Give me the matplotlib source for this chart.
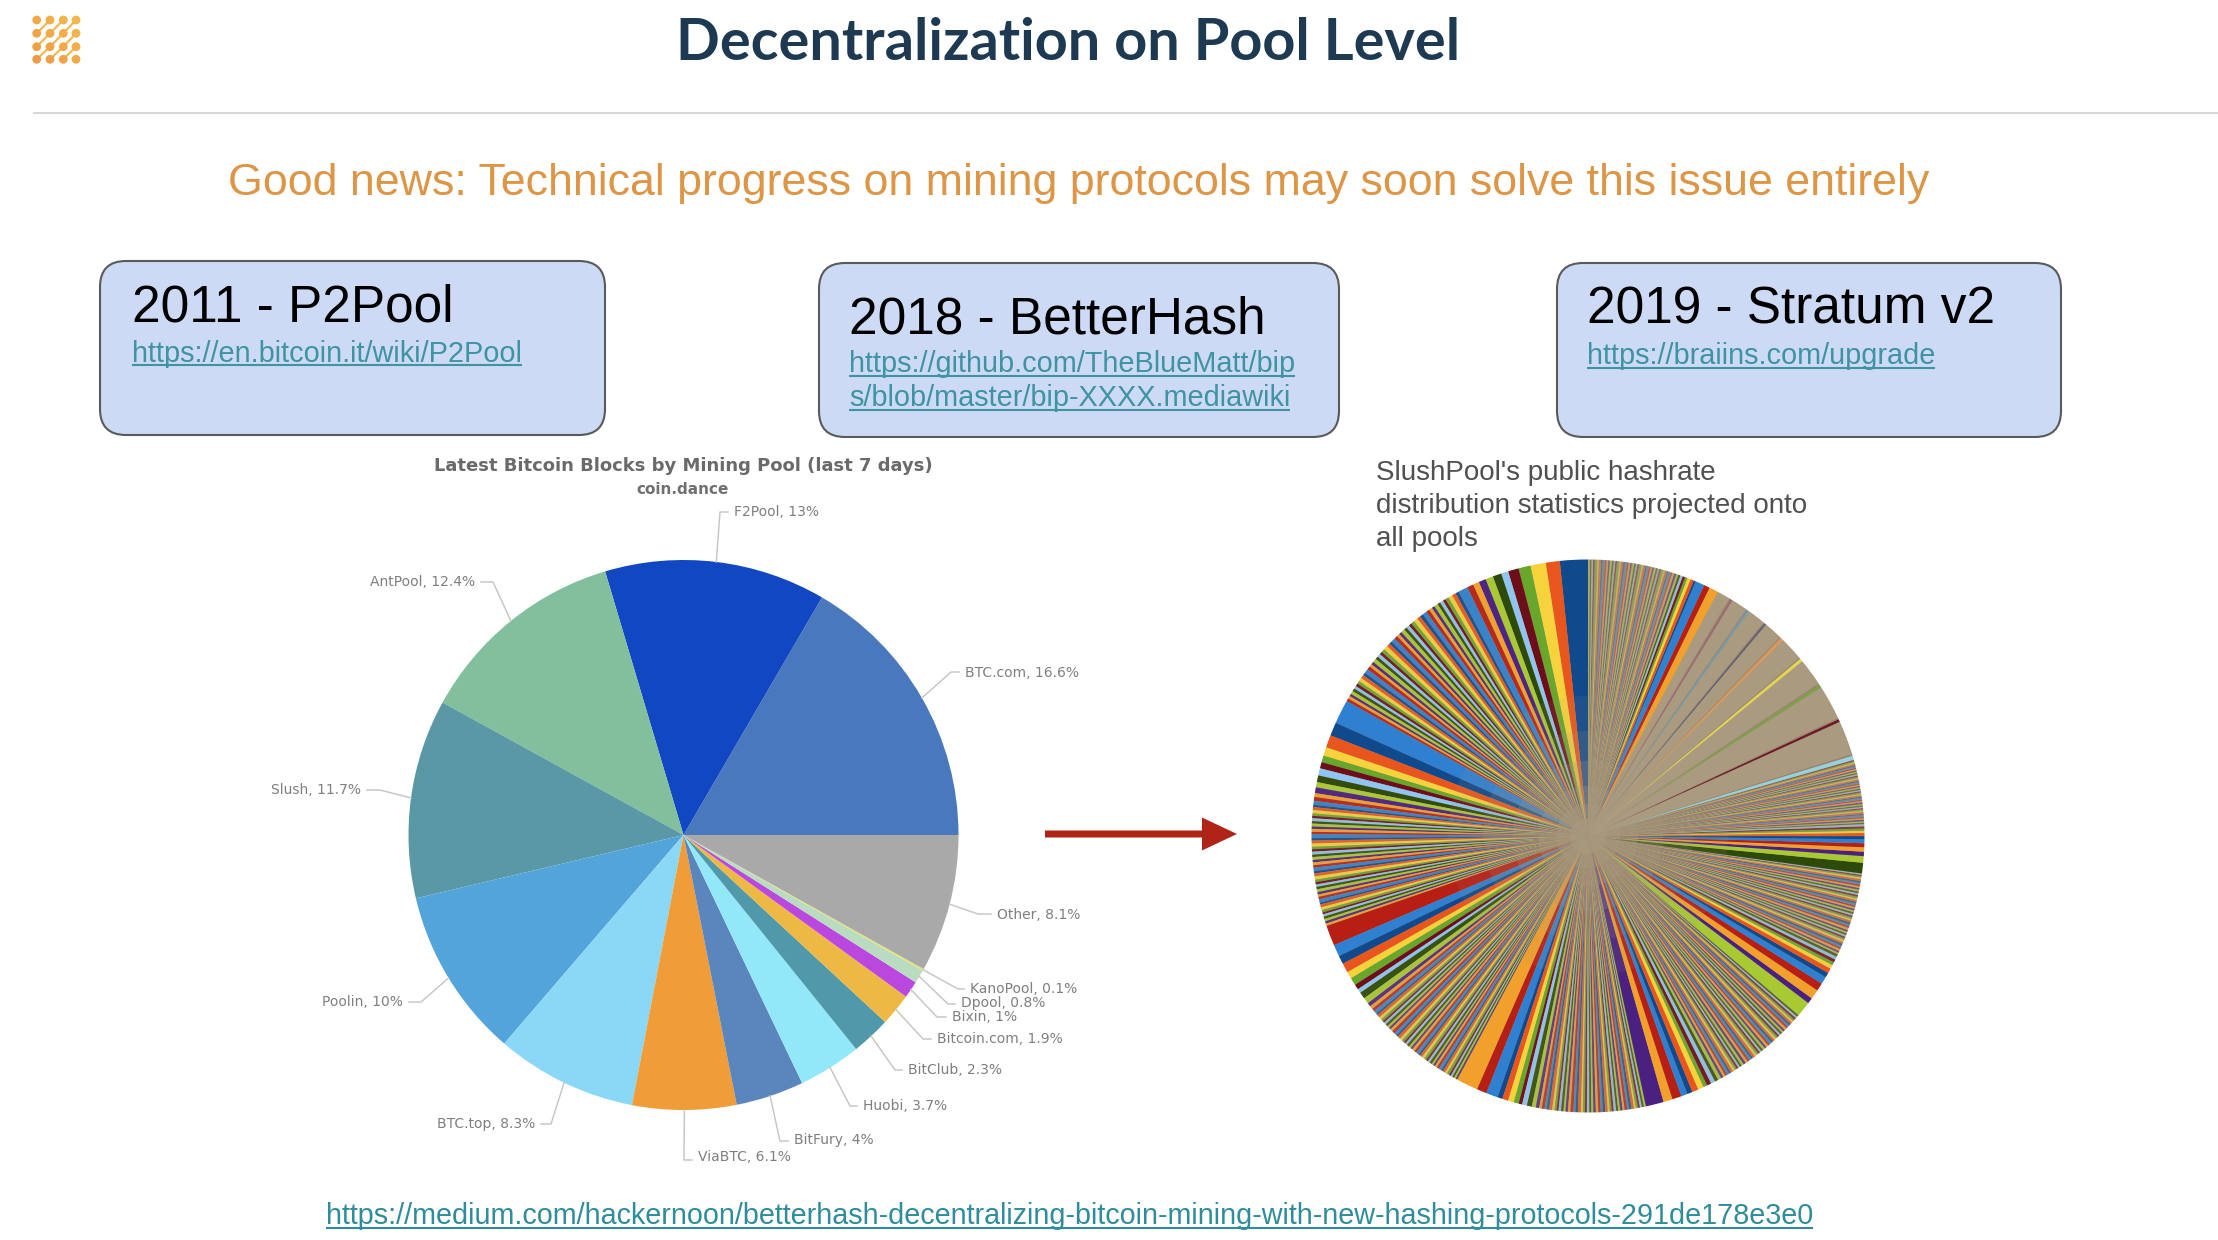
import matplotlib
matplotlib.use("Agg")
import matplotlib.pyplot as plt
from matplotlib.patches import FancyBboxPatch, FancyArrow, Circle
from matplotlib.colors import to_rgb
import math

W, H = 2218, 1240

# ---------- left pie data ----------
pool_names = ["BTC.com", "F2Pool", "AntPool", "Slush", "Poolin", "BTC.top", "ViaBTC", "BitFury",
              "Huobi", "BitClub", "Bitcoin.com", "Bixin", "Dpool", "KanoPool", "Other"]
pool_share = [16.6, 13, 12.4, 11.7, 10, 8.3, 6.1, 4, 3.7, 2.3, 1.9, 1, 0.8, 0.1, 8.1]
pool_colors = ["#4a78bd", "#1247c4", "#82bf9d", "#5b98a6", "#53a4db", "#8bd8f6", "#f09c38", "#5a86bd",
               "#92e8f9", "#5099ab", "#eeb845", "#bb48de", "#b9dcc0", "#e8e070", "#a9a9a9"]

# ---------- right pie data: degrees read per pool, counter-clockwise from 12 o'clock ----------
palette = ["#10498c", "#e9561d", "#f6d23d", "#69a62c", "#6c0f1b", "#8fc5ef",
           "#2e4a0b", "#a9c933", "#4a2181", "#f2a02c", "#b71f14", "#2f80d1"]
group_start_color = [0, 11, 10, 9, 8, 7, 6, 9]
group_span = [60.8, 48.2, 42.8, 40.3, 37.5, 32.6, 23.8, 28.0]
group_tail_mute = [0.12, 0.15, 0.25, 0.3, 0.32, 0.4, 0.5, 0.58]

grp_a = [5.8, 2.9, 3.2, 2.5, 2.2, 1.5, 1.8, 1.6, 1.5, 1.3, 1.3, 2.0,
         .7, .8, .9, .7, .6, .7, .6, .8, .6, .7, .7, .9,
         .7, .7, .9, .7, .6, .7, .6, .8, .6, .6, .7, .9,
         .6, .7, .9, .7, .6, .7, .6, .8, .6, .6, .7, .9,
         .6, .7, .8, .6, .6, .6, .6, .7, .5, .6, .6]
grp_b = [5.0, 2.8, 2.6, 1.8, 1.4, 1.3, 1.5, 1.4, 1.1, 1.2, .8, .8,
         .8, .5, .6, .7, .5, .5, .6, .5, .6, .5, .6, .5,
         .8, .5, .6, .7, .5, .5, .6, .5, .6, .5, .6, .5,
         .7, .5, .6, .7, .5, .5, .5, .5, .6, .5, .5, .5,
         .7, .4, .6, .6, .5, .4, .5, .5, .5, .5, .5]
grp_c = [4.3, 2.5, 1.8, 2.0, 1.5, 1.6, 1.1, .9, 1.4, 1.3, .8, .7,
         .6, .7, .4, .6, .6, .5, .4, .5, .5, .5, .4, .6,
         .6, .6, .4, .6, .6, .5, .4, .5, .5, .5, .4, .6,
         .5, .6, .4, .5, .6, .5, .4, .5, .5, .4, .4, .5,
         .5, .6, .4, .5, .5, .5, .4, .4, .4, .4, .4]
grp_d = [4.4, 2.0, 2.4, 1.0, 1.2, 1.2, 1.0, .7, 1.0, 1.0, .8, .7,
         .5, .6, .4, .5, .6, .5, .4, .4, .5, .5, .4, .5,
         .5, .6, .4, .5, .6, .4, .4, .4, .5, .4, .4, .5,
         .5, .5, .4, .5, .5, .4, .4, .4, .5, .4, .4, .5,
         .4, .5, .4, .5, .5, .4, .4, .4, .4, .4, .4]
grp_e = [3.7, 1.9, 1.9, 1.3, 1.1, 1.3, 1.2, .8, .9, .9, .7, .7,
         .5, .5, .4, .5, .4, .5, .5, .4, .4, .4, .4, .5,
         .5, .5, .4, .5, .4, .5, .5, .4, .4, .4, .4, .5,
         .4, .5, .4, .5, .4, .4, .5, .4, .4, .4, .4, .4,
         .4, .5, .4, .4, .4, .4, .4, .4, .4, .4, .4]
grp_f = [3.5, 1.3, 2.2, 1.8, 1.7, 1.1, 1.1, .9, .7, .7, .7, .6,
         .4, .4, .5, .4, .4, .5, .4, .5, .4, .4, .4, .4,
         .4, .4, .5, .4, .4, .5, .4, .4, .4, .4, .4, .4,
         .4, .4, .4, .4, .4, .4, .4, .4, .4, .4, .4, .4,
         .4, .4, .4, .4, .4, .4, .4, .4, .3, .3, .3]
grp_g = [2.4, 1.5, 1.0, 1.0, .9, .9, .7, .7, .5, .5, .5, .5,
         .3, .3, .4, .3, .3, .4, .3, .4, .3, .3, .3, .3,
         .3, .3, .4, .3, .3, .4, .3, .3, .3, .3, .3, .3,
         .3, .3, .3, .3, .3, .3, .3, .3, .3, .3, .3, .3,
         .3, .3, .3, .3, .3, .3, .3, .3, .3, .3, .3]
grp_p = [2.2, 1.4, 2.2, .5, .8, .8, .6, .6, .6, .5, .5, .5,
         .5, .4, .5, .4, .5, .4, .6, .4, .4, .4, .5, .4,
         .4, .4, .5, .4, .5, .4, .6, .4, .4, .4, .5, .4,
         .4, .4, .5, .4, .5, .4, .6, .4, .4, .4, .5, .4,
         .4, .4, .5, .4, .5, .4, .6, .4, .4, .4, .4]
striped_groups = [grp_a, grp_b, grp_c, grp_d, grp_e, grp_f, grp_g]

thin_head_deg = [0.9, 0.6, 0.7, 0.7, 0.7, 0.45, 0.45, 0.5]
thin_mark_deg = [0.35, 0.3, 0.3, 0.25, 0.25, 0.25, 0.25, 0.25]
thin_rest_deg = [7.15, 7.2, 5.7, 4.95, 3.85, 3.8, 3.4, 2.75]
thin_head_color = ["#95d2dc", "#6e1a2a", "#7fa04a", "#e2d452", "#dc985a", "#5f5f75", "#6a9db4", "#9a6b72"]
TAN = "#aa9a80"
MAUVE = "#99826f"

# ---------- text ----------
title_text = "Decentralization on Pool Level"
subtitle_text = "Good news: Technical progress on mining protocols may soon solve this issue entirely"
bottom_link = "https://medium.com/hackernoon/betterhash-decentralizing-bitcoin-mining-with-new-hashing-protocols-291de178e3e0"
note_lines = ["SlushPool's public hashrate", "distribution statistics projected onto", "all pools"]

fig = plt.figure(figsize=(W / 100, H / 100), dpi=100, facecolor="white")
ax = fig.add_axes([0, 0, 1, 1])


def Y(v):
    return H - v


def mute(c, f):
    a, b = to_rgb(c), to_rgb(TAN)
    return tuple(x * (1 - f) + y * f for x, y in zip(a, b))


def hline_text(x, base, s, size, color, family="Liberation Sans"):
    return ax.text(x, Y(base), s, fontsize=size, color=color, family=family, ha="left", va="baseline")


def underline(t, x, base, color):
    r = fig.canvas.get_renderer()
    w = t.get_window_extent(r).width
    ax.plot([x, x + w], [Y(base + 3.5)] * 2, color=color, lw=1.5, solid_capstyle="butt")


# ---------- left pie ----------
LC = (683.5, Y(835))
LR = 275
wedges, _ = ax.pie(pool_share, colors=pool_colors, startangle=0, counterclock=True, radius=LR, center=LC,
                   wedgeprops=dict(linewidth=0))
# label anchor (x, y of text), side, elbow x, elbow y
label_layout = [
    (965, 673, "l", 951, 672), (734, 512, "l", 720, 512), (475, 582, "r", 493, 582),
    (361, 790, "r", 380, 790), (403, 1002, "r", 421, 1002), (535, 1124, "r", 551, 1124),
    (698, 1157, "l", 684, 1160), (794, 1140, "l", 780, 1141), (863, 1106, "l", 850, 1106),
    (908, 1070, "l", 895, 1070), (937, 1039, "l", 923, 1039), (952, 1017, "l", 937, 1017),
    (961, 1003, "l", 948, 1004), (970, 989, "l", 958, 989), (997, 915, "l", 978, 914),
]
for w, name, val, (tx, ty, side, ex, ey) in zip(wedges, pool_names, pool_share, label_layout):
    a = math.radians((w.theta1 + w.theta2) / 2)
    sx = LC[0] + LR * math.cos(a)
    sy = LC[1] + LR * math.sin(a)
    end = tx - 6 if side == "l" else tx + 6
    ax.plot([sx, ex, end], [sy, Y(ey), Y(ey)], color="#c8c8c8", lw=1.1)
    ax.text(tx, Y(ty), f"{name}, {val:g}%", fontsize=10, color="#7f7f7f", family="DejaVu Sans",
            ha="left" if side == "l" else "right", va="center")
ax.text(683, Y(466), "Latest Bitcoin Blocks by Mining Pool (last 7 days)", fontsize=13, fontweight="bold",
        color="#6a6a6a", family="DejaVu Sans", ha="center", va="center")
ax.text(683, Y(489), "coin.dance", fontsize=11, fontweight="bold", color="#707070", family="DejaVu Sans",
        ha="center", va="center")

# ---------- right pie ----------
RC = (1588, Y(836))
RR = 276.5
ax.add_patch(Circle(RC, RR - 0.5, fc=TAN, ec="none", zorder=1))
deg, col = [], []
for g, vals in enumerate(striped_groups + [grp_p]):
    k = group_span[g] / sum(vals)
    for i, v in enumerate(vals):
        deg.append(v * k)
        f = group_tail_mute[g] if i >= 12 else group_tail_mute[g] * max(0, i - 6) / 6
        col.append(mute(palette[(group_start_color[g] + i) % 12], f))
    if g == 6:
        for h, m, r, c in zip(thin_head_deg, thin_mark_deg, thin_rest_deg, thin_head_color):
            deg += [h, m, r]
            col += [c, MAUVE, TAN]
pw, _ = ax.pie(deg, colors=col, startangle=90, counterclock=True, radius=RR, center=RC,
               wedgeprops=dict(linewidth=0, zorder=2))
for rad, al in [(140, .1), (105, .15), (75, .22), (50, .3), (32, .4), (18, .6)]:
    ax.add_patch(Circle(RC, rad, fc=TAN, ec="none", alpha=al, zorder=3))

for i, s in enumerate(note_lines):
    ax.text(1376, Y(473 + i * 33), s, fontsize=20, color="#505050", family="Liberation Sans", ha="left", va="center")

# ---------- page chrome ----------
ax.text(1068, Y(60), title_text, fontsize=41.5, fontweight="bold", color="#1d3a52", family="Lato",
        ha="center", va="baseline")
ax.plot([33, W], [Y(113)] * 2, color="#d6d6d6", lw=1.5, solid_capstyle="butt")
ax.text(1079, Y(184), subtitle_text, fontsize=32.2, color="#dd9546", family="Liberation Sans",
        ha="center", va="center")

# logo
col_x = [36.7, 50, 63.3, 76]
row_y = [20, 33.3, 46.7, 59.3]
for cx in range(3):
    for ry in range(1, 4):
        ax.plot([col_x[cx], col_x[cx + 1]], [Y(row_y[ry]), Y(row_y[ry - 1])], color="#f2b64c", lw=1.5)
for cx in range(4):
    for ry in range(4):
        t = (cx + (3 - ry)) / 6
        c = (0.93 + 0.02 * t, 0.61 + 0.11 * t, 0.27 + 0.03 * t)
        ax.add_patch(Circle((col_x[cx], Y(row_y[ry])), 4.4, fc=c, ec="none", zorder=4))

# boxes
box_layout = [(100, 261, 505, 174), (819, 263, 520, 174), (1557, 263, 504, 174)]
box_heads = ["2011 - P2Pool", "2018 - BetterHash", "2019 - Stratum v2"]
head_pos = [(132, 322), (849, 333), (1587, 323.5)]
link_lines = [["https://en.bitcoin.it/wiki/P2Pool"],
              ["https://github.com/TheBlueMatt/bip", "s/blob/master/bip-XXXX.mediawiki"],
              ["https://braiins.com/upgrade"]]
link_base = [[361.5], [372.5, 406.5], [364]]
LINK = "#3f93a3"
for (x, y, w, h), head, (hx, hy), links, bases in zip(box_layout, box_heads, head_pos, link_lines, link_base):
    ax.add_patch(FancyBboxPatch((x, Y(y + h)), w, h, boxstyle="round,pad=0,rounding_size=26",
                                fc="#ccdaf5", ec="#5a5a5a", lw=1.5))
    hline_text(hx, hy, head, 37, "black")
    for s, b in zip(links, bases):
        t = hline_text(hx, b, s, 20.75, LINK)
        underline(t, hx, b, LINK)

# arrow
ax.add_patch(FancyArrow(1045, Y(834), 192, 0, width=7, head_width=33, head_length=35,
                        length_includes_head=True, fc="#b02418", ec="none"))

# bottom link
t = hline_text(326, 1224, bottom_link, 20.73, "#2f8c9b")
underline(t, 326, 1224, "#2f8c9b")

ax.set_aspect("auto")
ax.set_xlim(0, W)
ax.set_ylim(0, H)
ax.axis("off")
fig.savefig("out.png", dpi=100, facecolor="white")
